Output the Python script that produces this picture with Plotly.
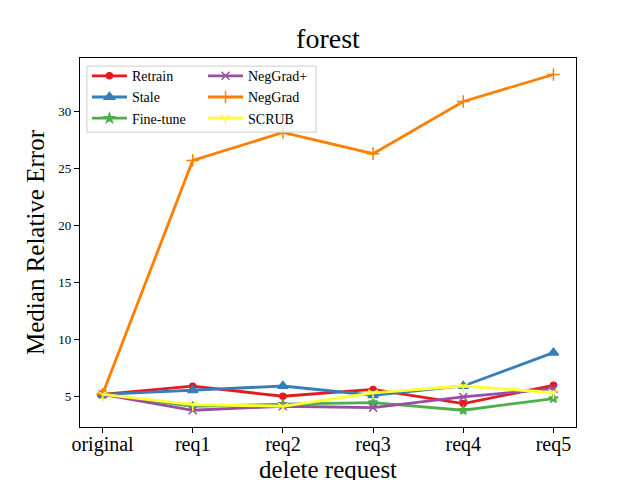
import plotly.graph_objs as go

# delete requests on the x axis
requests = ['original', 'req1', 'req2', 'req3', 'req4', 'req5']

# median relative error per method
retrain = [5.17, 5.88, 5.0, 5.6, 4.36, 5.96]
stale = [5.17, 5.53, 5.9, 5.09, 5.9, 8.83]
fine_tune = [5.17, 4.12, 4.3, 4.44, 3.77, 4.8]
neggrad_plus = [5.17, 3.77, 4.12, 4.0, 4.94, 5.67]
neggrad = [5.17, 25.7, 28.16, 26.3, 30.88, 33.25]
scrub = [5.17, 4.27, 4.12, 5.29, 5.9, 5.32]

font = 'Liberation Serif'

series = [
    # name, values, colour, marker symbol, marker size, legend
    ('Retrain', retrain, '#e41a1c', 'circle', 6, 'legend'),
    ('Stale', stale, '#377eb8', 'triangle-up', 9, 'legend'),
    ('Fine-tune', fine_tune, '#4daf4a', 'star', 7, 'legend'),
    ('NegGrad+', neggrad_plus, '#984ea3', 'x-thin-open', 8, 'legend2'),
    ('NegGrad', neggrad, '#ff7f00', 'cross-thin-open', 9, 'legend2'),
    ('SCRUB', scrub, '#ffff33', 'y-down-open', 8, 'legend2'),
]

data = []
for name, vals, color, symbol, size, leg in series:
    trace = go.Scatter(
        x=requests,
        y=vals,
        mode='lines+markers',
        name=name,
        legend=leg,
        line=dict(color=color, width=2.8),
        marker=dict(symbol=symbol, size=size, color=color,
                    line=dict(color=color, width=1.5)),
    )
    data.append(trace)

axis_style = dict(
    showline=True,
    linecolor='black',
    linewidth=1.1,
    mirror=True,
    ticks='outside',
    ticklen=5,
    tickwidth=1.1,
    tickcolor='black',
    showgrid=False,
    zeroline=False,
    automargin=False,
)

# the page body adds an 8px offset, so margins are shifted to compensate
layout = go.Layout(
    width=640,
    height=480,
    paper_bgcolor='white',
    plot_bgcolor='white',
    margin=dict(l=72, r=72, t=50, b=61),
    font=dict(family=font, color='black'),
    title=dict(text='forest', font=dict(size=28, family=font),
               x=0.5, xref='paper', xanchor='center',
               y=1 - 30 / 480, yref='container', yanchor='middle', automargin=False),
    xaxis=dict(axis_style, range=[-0.25, 5.25], tickfont=dict(size=20),
               ticklabelstandoff=-6,
               title=dict(text='delete request', font=dict(size=25), standoff=1)),
    yaxis=dict(axis_style, range=[2.3, 34.7], tickvals=[5, 10, 15, 20, 25, 30],
               tickfont=dict(size=13),
               title=dict(text='Median Relative Error', font=dict(size=25), standoff=6)),
    legend=dict(x=0.014, y=0.994, xanchor='left', yanchor='top',
                bgcolor='rgba(0,0,0,0)', font=dict(size=14), itemwidth=35),
    legend2=dict(x=0.248, y=0.994, xanchor='left', yanchor='top',
                 bgcolor='rgba(0,0,0,0)', font=dict(size=14), itemwidth=35),
    shapes=[dict(type='rect', xref='paper', yref='paper',
                 x0=0.014, x1=0.476, y0=0.799, y1=0.978,
                 line=dict(color='#cccccc', width=1),
                 fillcolor='rgba(255,255,255,0.8)', layer='above')],
)

fig = go.Figure(data=data, layout=layout)
fig.write_html("out.html")
